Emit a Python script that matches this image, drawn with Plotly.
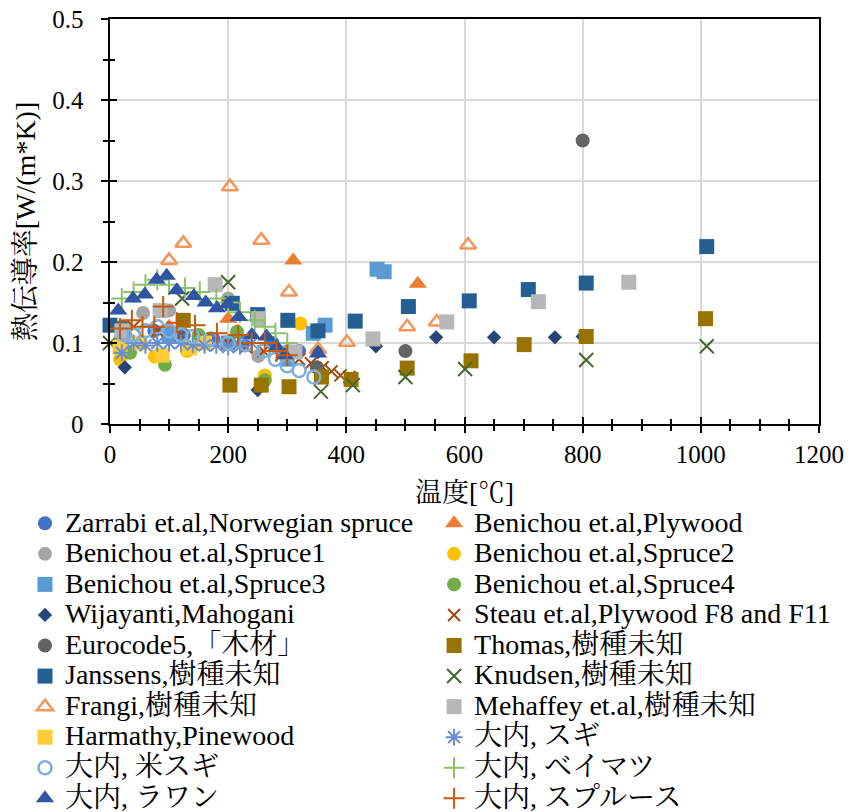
import plotly.graph_objects as go

# ---------------- data ----------------
names = [
    "Zarrabi et.al,Norwegian spruce", "Benichou et.al,Plywood",
    "Benichou et.al,Spruce1", "Benichou et.al,Spruce2",
    "Benichou et.al,Spruce3", "Benichou et.al,Spruce4",
    "Wijayanti,Mahogani", "Steau et.al,Plywood F8 and F11",
    "Eurocode5,「木材」", "Thomas,樹種未知",
    "Janssens,樹種未知", "Knudsen,樹種未知",
    "Frangi,樹種未知", "Mehaffey et.al,樹種未知",
    "Harmathy,Pinewood", "大内, スギ",
    "大内, 米スギ", "大内, ベイマツ",
    "大内, ラワン", "大内, スプルース",
]

zarrabi_T = [25, 75, 125, 175, 225, 275, 320]
zarrabi_k = [0.11, 0.115, 0.11, 0.105, 0.1, 0.1, 0.09]

plywood_T = [100, 200, 310, 521]
plywood_k = [0.12, 0.13, 0.202, 0.173]

spruce1_T = [25, 56, 100, 200, 251, 300]
spruce1_k = [0.12, 0.137, 0.14, 0.155, 0.084, 0.09]

spruce2_T = [17, 50, 76, 130, 200, 262, 322]
spruce2_k = [0.08, 0.1, 0.083, 0.09, 0.1, 0.06, 0.124]

spruce3_T = [20, 100, 200, 300, 344, 364, 452, 464]
spruce3_k = [0.1, 0.11, 0.1, 0.08, 0.112, 0.122, 0.191, 0.188]

spruce4_T = [34, 93, 150, 215, 262]
spruce4_k = [0.088, 0.073, 0.11, 0.114, 0.054]

wijayanti_T = [25, 250, 352, 450, 552, 650, 753, 800]
wijayanti_k = [0.07, 0.042, 0.089, 0.096, 0.107, 0.107, 0.107, 0.108]

steau_T = [40, 80, 120, 160, 200, 230, 260, 290, 320, 340, 360, 375, 390, 405]
steau_k = [0.12, 0.115, 0.11, 0.105, 0.1, 0.095, 0.09, 0.085, 0.08, 0.075,
           0.07, 0.065, 0.06, 0.058]

euro_T = [20, 200, 350, 500, 800]
euro_k = [0.12, 0.15, 0.07, 0.09, 0.35]

thomas_T = [124, 203, 256, 303, 358, 408, 503, 611, 701, 806, 1008]
thomas_k = [0.128, 0.048, 0.048, 0.046, 0.058, 0.055, 0.069, 0.078, 0.098,
            0.108, 0.13]

janssens_T = [0, 207, 250, 301, 352, 415, 505, 608, 708, 806, 1010]
janssens_k = [0.122, 0.149, 0.135, 0.128, 0.115, 0.127, 0.145, 0.152, 0.166,
              0.174, 0.219]

knudsen_T = [0, 122, 200, 357, 411, 500, 601, 806, 1010]
knudsen_k = [0.1, 0.155, 0.175, 0.04, 0.048, 0.058, 0.068, 0.079, 0.096]

frangi_T = [100, 124, 203, 256, 303, 352, 401, 503, 553, 606]
frangi_k = [0.202, 0.223, 0.293, 0.227, 0.163, 0.092, 0.101, 0.12, 0.126,
            0.221]

mehaffey_T = [20, 85, 178, 251, 313, 445, 570, 725, 878]
mehaffey_k = [0.115, 0.14, 0.172, 0.13, 0.089, 0.105, 0.126, 0.151, 0.175]

harmathy_T = [17, 50, 88, 135, 160]
harmathy_k = [0.095, 0.1, 0.085, 0.094, 0.1]

sugi_T = [20, 40, 60, 80, 100, 120, 140, 160, 180, 200, 220, 240]
sugi_k = [0.088, 0.1, 0.097, 0.1, 0.1, 0.1, 0.098, 0.097, 0.097, 0.095,
          0.096, 0.1]

beisugi_T = [25, 40, 60, 80, 100, 120, 140, 170, 200, 230, 260, 280, 300,
             320, 345]
beisugi_k = [0.11, 0.11, 0.115, 0.12, 0.115, 0.11, 0.108, 0.105, 0.1, 0.098,
             0.09, 0.08, 0.072, 0.066, 0.058]

beimatsu_T = [20, 40, 60, 80, 100, 127, 152, 180, 200, 220, 245, 262, 280,
              300]
beimatsu_k = [0.155, 0.163, 0.172, 0.178, 0.172, 0.168, 0.163, 0.155, 0.15,
              0.138, 0.128, 0.12, 0.112, 0.1]

lauan_T = [14, 39, 59, 79, 96, 113, 142, 162, 181, 200, 218, 240, 265, 282,
           296, 352]
lauan_k = [0.14, 0.155, 0.16, 0.178, 0.183, 0.165, 0.158, 0.15, 0.143, 0.148,
           0.132, 0.11, 0.108, 0.095, 0.085, 0.087]

spruce_T = [17, 37, 55, 75, 90, 113, 144, 181, 217, 240, 262, 282, 300]
spruce_k = [0.118, 0.128, 0.12, 0.12, 0.145, 0.125, 0.122, 0.112, 0.11, 0.1,
            0.1, 0.09, 0.085]

x_ticks = [0, 200, 400, 600, 800, 1000, 1200]
y_ticks = [0, 0.1, 0.2, 0.3, 0.4, 0.5]
y_ticklabels = ["0", "0.1", "0.2", "0.3", "0.4", "0.5"]

# ---------------- styles ----------------
series = [
    (zarrabi_T, zarrabi_k, "circle", "#4472C4", 14, None),
    (plywood_T, plywood_k, "triangle-up", "#ED7D31", 16, None),
    (spruce1_T, spruce1_k, "circle", "#A5A5A5", 14, None),
    (spruce2_T, spruce2_k, "circle", "#FFC000", 14, None),
    (spruce3_T, spruce3_k, "square", "#5B9BD5", 15, None),
    (spruce4_T, spruce4_k, "circle", "#70AD47", 14, None),
    (wijayanti_T, wijayanti_k, "diamond", "#264478", 11, None),
    (steau_T, steau_k, "x-thin-open", "#9E480E", 12, 2),
    (euro_T, euro_k, "circle", "#636363", 14, None),
    (thomas_T, thomas_k, "square", "#997300", 15, None),
    (janssens_T, janssens_k, "square", "#255E91", 15, None),
    (knudsen_T, knudsen_k, "x-thin-open", "#43682B", 14, 2),
    (frangi_T, frangi_k, "triangle-up-open", "#F1975A", 14, 2.5),
    (mehaffey_T, mehaffey_k, "square", "#B7B7B7", 15, None),
    (harmathy_T, harmathy_k, "square", "#FFCD33", 15, None),
    (sugi_T, sugi_k, "asterisk-open", "#698ED0", 14, 2),
    (beisugi_T, beisugi_k, "circle-open", "#7CAFDD", 13, 2.5),
    (beimatsu_T, beimatsu_k, "cross-thin-open", "#8CC168", 15, 2),
    (lauan_T, lauan_k, "triangle-up", "#2F55A3", 16, None),
    (spruce_T, spruce_k, "cross-thin-open", "#C55A11", 15, 2),
]

serif = "Liberation Serif, 'Times New Roman', 'Noto Serif CJK JP', 'Noto Sans CJK JP', serif"
LEGEND_TEXT_PX = 28

fig = go.Figure()
for name, (xs, ys, sym, col, sz, lw) in zip(names, series):
    marker = dict(symbol=sym, color=col, size=sz)
    if lw is not None:
        marker["line"] = dict(color=col, width=lw)
    else:
        marker["line"] = dict(width=0)
    label = '<span style="font-size:%dpx">%s</span>' % (LEGEND_TEXT_PX, name)
    fig.add_trace(go.Scatter(x=xs, y=ys, mode="markers", name=label,
                             marker=marker, cliponaxis=False))

# invisible trace to activate the overlay axes (ticks crossing the axis line)
fig.add_trace(go.Scatter(x=[0], y=[0], xaxis="x2", yaxis="y2", mode="markers",
                         marker=dict(opacity=0), showlegend=False,
                         hoverinfo="skip"))

tickfont = dict(family=serif, size=25, color="black")

fig.update_layout(
    width=850, height=812,
    margin=dict(l=110, r=31, t=19, b=388, autoexpand=False),
    paper_bgcolor="white", plot_bgcolor="white",
    font=dict(family=serif, color="black"),
    xaxis=dict(range=[0, 1200], tickvals=x_ticks, ticks="outside", ticklen=7,
               tickwidth=2, tickcolor="black", showline=True, linecolor="black",
               linewidth=2, mirror=True, showgrid=True, gridcolor="#D9D9D9",
               gridwidth=1.5, zeroline=False, tickfont=tickfont,
               ticklabeloverflow="allow",
               title=dict(text="温度[℃]", font=dict(family=serif, size=27),
                          standoff=16),
               minor=dict(dtick=50, ticks="outside", ticklen=5, tickwidth=2,
                          tickcolor="black", showgrid=False)),
    yaxis=dict(range=[0, 0.5], tickvals=y_ticks,
               ticktext=[t + "\u2002" for t in y_ticklabels],
               ticks="outside", ticklen=7,
               tickwidth=2, tickcolor="black", showline=True, linecolor="black",
               linewidth=2, mirror=True, showgrid=True, gridcolor="#D9D9D9",
               gridwidth=1.5, zeroline=False, tickfont=tickfont,
               ticklabeloverflow="allow",
               title=dict(text="熱伝導率[W/(m*K)]",
                          font=dict(family=serif, size=28), standoff=8),
               minor=dict(dtick=0.05, ticks="outside", ticklen=5, tickwidth=2,
                          tickcolor="black", showgrid=False)),
    xaxis2=dict(overlaying="x", matches="x", range=[0, 1200], side="bottom",
                tickvals=x_ticks, ticks="inside", ticklen=7, tickwidth=2,
                tickcolor="black", showticklabels=False, showgrid=False,
                zeroline=False, showline=False,
                minor=dict(dtick=50, ticks="inside", ticklen=5, tickwidth=2,
                           tickcolor="black", showgrid=False)),
    yaxis2=dict(overlaying="y", matches="y", range=[0, 0.5], side="left",
                tickvals=y_ticks, ticks="inside", ticklen=7, tickwidth=2,
                tickcolor="black", showticklabels=False, showgrid=False,
                zeroline=False, showline=False,
                minor=dict(dtick=0.05, ticks="inside", ticklen=5, tickwidth=2,
                           tickcolor="black", showgrid=False)),
    legend=dict(orientation="h", xref="paper", yref="paper",
                x=-0.1199, y=-0.19506, xanchor="left", yanchor="top",
                entrywidth=0.4995, entrywidthmode="fraction",
                font=dict(family=serif, size=21.2, color="black"),
                bgcolor="rgba(0,0,0,0)", borderwidth=0,
                itemsizing="trace", traceorder="normal"),
    showlegend=True,
)

fig.write_html("out.html", config={"displayModeBar": False},
               post_script="document.body.style.margin='0px';")
